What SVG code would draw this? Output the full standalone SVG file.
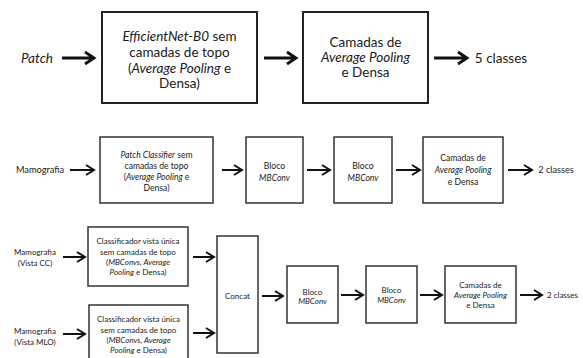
<svg xmlns="http://www.w3.org/2000/svg" width="583" height="358" viewBox="0 0 583 358">
<style>
.t{font-family:Lato,"Open Sans",sans-serif;fill:#1a1a1a;text-anchor:middle}
.l{font-size:13.5px}
.m{font-size:9.2px}
.n{font-size:8.6px}
.s{font-size:8px}
.b1{fill:#fff;stroke:#222;stroke-width:2}
.b2{fill:#fff;stroke:#333;stroke-width:1.5}
.a1{fill:none;stroke:#111;stroke-width:2.8}
.a2{fill:none;stroke:#111;stroke-width:2}
</style>
<rect width="583" height="358" fill="#fff"/>
<g id="connectors">
<path class="a1" d="M62 58H93M85 52L94 58L85 64"/>
<path class="a1" d="M264 58H295M287 52L296 58L287 64"/>
<path class="a1" d="M434 58H466M458 52L467 58L458 64"/>
<path class="a2" d="M70 170H93M86 165L94 170L86 175"/>
<path class="a2" d="M222 170H241M234 165L242 170L234 175"/>
<path class="a2" d="M307 170H329M322 165L330 170L322 175"/>
<path class="a2" d="M396 170H419M412 165L420 170L412 175"/>
<path class="a2" d="M508 170H531M524 165L532 170L524 175"/>
<path class="a2" d="M63 257H84M77 252L85 257L77 262"/>
<path class="a2" d="M63 334H84M77 329L85 334L77 339"/>
<path class="a2" d="M193 257H213M206 252L214 257L206 262"/>
<path class="a2" d="M193 333H213M206 328L214 333L206 338"/>
<path class="a2" d="M262 296H282M275 291L283 296L275 301"/>
<path class="a2" d="M341 295H362M355 290L363 295L355 300"/>
<path class="a2" d="M420 295H441M434 290L442 295L434 300"/>
<path class="a2" d="M520 295H541M534 290L542 295L534 300"/>
</g>
<g id="patch"><text class="t l" x="37" y="63" font-style="italic">Patch</text></g>
<g id="effnet">
<rect class="b1" x="102" y="12" width="155" height="91"/>
<text class="t l" x="179.5" y="41"><tspan font-style="italic">EfficientNet-B0</tspan> sem</text>
<text class="t l" x="179.5" y="57">camadas de topo</text>
<text class="t l" x="179.5" y="73">(<tspan font-style="italic">Average Pooling</tspan> e</text>
<text class="t l" x="179.5" y="88">Densa)</text>
</g>
<g id="camadas1">
<rect class="b1" x="303" y="12" width="125" height="91"/>
<text class="t l" x="365.5" y="47">Camadas de</text>
<text class="t l" x="365.5" y="62" font-style="italic">Average Pooling</text>
<text class="t l" x="365.5" y="77">e Densa</text>
</g>
<g id="classes5"><text class="t l" x="501" y="63">5 classes</text></g>

<g id="mamografia"><text class="t m" x="40" y="173">Mamografia</text></g>
<g id="patchclf">
<rect class="b2" x="100" y="137" width="113" height="66"/>
<text class="t n" x="156.5" y="158"><tspan font-style="italic">Patch Classifier</tspan> sem</text>
<text class="t n" x="156.5" y="169">camadas de topo</text>
<text class="t n" x="156.5" y="180">(<tspan font-style="italic">Average Pooling</tspan> e</text>
<text class="t n" x="156.5" y="191">Densa)</text>
</g>
<g id="bloco1">
<rect class="b2" x="246" y="137" width="57" height="66"/>
<text class="t n" x="274.5" y="169">Bloco</text>
<text class="t n" x="274.5" y="181" font-style="italic">MBConv</text>
</g>
<g id="bloco2">
<rect class="b2" x="334" y="137" width="58" height="66"/>
<text class="t n" x="363" y="169">Bloco</text>
<text class="t n" x="363" y="181" font-style="italic">MBConv</text>
</g>
<g id="camadas2">
<rect class="b2" x="423" y="137" width="80" height="66"/>
<text class="t n" x="463" y="161">Camadas de</text>
<text class="t n" x="463" y="173" font-style="italic">Average Pooling</text>
<text class="t n" x="463" y="185">e Densa</text>
</g>
<g id="classes2a"><text class="t m" x="556" y="173">2 classes</text></g>

<g id="mamocc">
<text class="t s" x="35" y="255">Mamografia</text>
<text class="t s" x="35" y="266">(Vista CC)</text>
</g>
<g id="mamomlo">
<text class="t s" x="35" y="334">Mamografia</text>
<text class="t s" x="35" y="345">(Vista MLO)</text>
</g>
<g id="clfcc">
<rect class="b2" x="88" y="227" width="100" height="59"/>
<text class="t s" x="138" y="244">Classificador vista única</text>
<text class="t s" x="138" y="255">sem camadas de topo</text>
<text class="t s" x="138" y="265">(<tspan font-style="italic">MBConvs, Average</tspan></text>
<text class="t s" x="138" y="275"><tspan font-style="italic">Pooling</tspan> e Densa)</text>
</g>
<g id="clfmlo">
<rect class="b2" x="89" y="305" width="99" height="56"/>
<text class="t s" x="138.5" y="322">Classificador vista única</text>
<text class="t s" x="138.5" y="333">sem camadas de topo</text>
<text class="t s" x="138.5" y="343">(<tspan font-style="italic">MBConvs, Average</tspan></text>
<text class="t s" x="138.5" y="353"><tspan font-style="italic">Pooling</tspan> e Densa)</text>
</g>
<g id="concat">
<rect class="b2" x="217" y="236" width="41" height="117"/>
<text class="t s" x="237.5" y="299">Concat</text>
</g>
<g id="bloco3">
<rect class="b2" x="287" y="266" width="51" height="57"/>
<text class="t s" x="312.5" y="295">Bloco</text>
<text class="t s" x="312.5" y="304" font-style="italic">MBConv</text>
</g>
<g id="bloco4">
<rect class="b2" x="366" y="266" width="51" height="57"/>
<text class="t s" x="391.5" y="293">Bloco</text>
<text class="t s" x="391.5" y="303" font-style="italic">MBConv</text>
</g>
<g id="camadas3">
<rect class="b2" x="445" y="266" width="71" height="57"/>
<text class="t s" x="480.5" y="288">Camadas de</text>
<text class="t s" x="480.5" y="298" font-style="italic">Average Pooling</text>
<text class="t s" x="480.5" y="308">e Densa</text>
</g>
<g id="classes2b"><text class="t s" x="562.5" y="298">2 classes</text></g>
</svg>
